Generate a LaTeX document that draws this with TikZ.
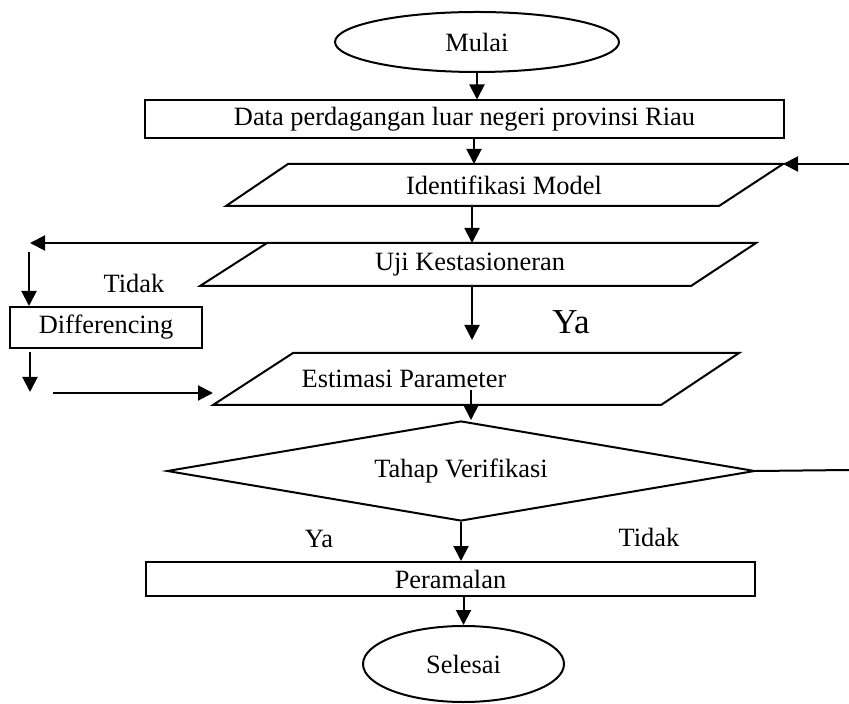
\documentclass[tikz,border=0pt]{standalone}
\usepackage{fontspec}
\setmainfont{Liberation Serif}
\usetikzlibrary{arrows.meta}
\usetikzlibrary{shapes.geometric}
\usetikzlibrary{calc,positioning}

\tikzset{
    flowline/.style = {line width=1pt},
    terminal/.style = {ellipse, draw, flowline, inner sep=1pt},
    process/.style = {rectangle, draw, flowline, inner sep=1pt},
    decision/.style = {diamond, draw, flowline, inner sep=1pt, aspect=5.9},
    label text/.style = {inner sep=1pt}
}

\begin{document}
\begin{tikzpicture}[x=0.5pt, y=-0.5pt, >={Triangle[length=7.5pt,width=7.5pt]},
    every node/.style={font=\fontsize{13.2}{15}\selectfont}]
    \useasboundingbox (0,0) rectangle (849,704);

    \node[terminal, minimum width=142pt, minimum height=30pt] (mulai) at (477,42) {Mulai};
    \node[process, minimum width=319.5pt, minimum height=19pt] (data) at (464.5,119.5)
        {Data perdagangan luar negeri provinsi Riau};

    % Identifikasi Model
    \draw[flowline] (288,164) -- (783,164) coordinate (idm-ne) -- (719,206) -- (226,206) -- cycle;
    \node[label text] (idm) at (504,185) {Identifikasi Model};
    \coordinate (idm-in) at (474,164);
    \coordinate (idm-out) at (472,206);

    % Uji Kestasioneran
    \draw[flowline] (267,243) coordinate (uji-nw) -- (756,243) -- (691,286) -- (200,286) -- cycle;
    \node[label text] (uji) at (470,265) {Uji Kestasioneran};
    \coordinate (uji-in) at (472,243);
    \coordinate (uji-out) at (472,287);

    % Estimasi Parameter
    \draw[flowline] (293,353) -- (739,353) -- (661,405) -- (213,405) -- cycle;
    \node[label text] (est) at (404,379) {Estimasi Parameter};
    \coordinate (est-in) at (472,340);
    \coordinate (est-out) at (471,390);

    \node[process, minimum width=96pt, minimum height=20.5pt] (diff) at (106,327.5) {Differencing};

    \node[decision, minimum width=294pt, minimum height=50pt] (verif) at (461,471) {Tahap Verifikasi};

    \node[process, minimum width=304.5pt, minimum height=17pt] (ramal) at (450.5,579) {Peramalan};
    \node[terminal, minimum width=100.5pt, minimum height=38pt] (selesai) at (463.5,664) {Selesai};

    % free ends of the loops
    \coordinate (back-in) at (849,164);
    \coordinate (back-out) at (849,470);
    \coordinate (tidak-turn) at (30,243);
    \coordinate (diff-in) at (29,252);
    \coordinate (diff-out) at (30,352);
    \coordinate (diff-end) at (30,392);
    \coordinate (est-left) at (53,393);
    \coordinate (est-tip) at (213,393);

    % main flow
    \draw[flowline,->] (mulai.south) -- (mulai.south |- data.north);
    \draw[flowline,->] (data.south -| idm-in) -- (idm-in);
    \draw[flowline,->] (idm-out) -- (uji-in);
    \draw[flowline,->] (uji-out) -- (est-in);
    \draw[flowline,->] (est-out) -- (est-out |- verif.north);
    \draw[flowline,->] (verif.south) -- (verif.south |- ramal.north);
    \draw[flowline,->] (ramal.south -| selesai) -- (selesai.north);

    % loops
    \draw[flowline,->] (back-in) -- (idm-ne);
    \draw[flowline] (verif.east) -- (back-out);
    \draw[flowline,->] (uji-nw) -- (tidak-turn);
    \draw[flowline,->] (diff-in) -- (diff-in |- diff.north);
    \draw[flowline,->] (diff-out) -- (diff-end);
    \draw[flowline,->] (est-left) -- (est-tip);

    % labels
    \node[label text] (tidak-up) at (134,283) {Tidak};
    \node[label text, font=\fontsize{17.5}{20}\selectfont] (ya-up) at (571,322) {Ya};
    \node[label text] (ya-down) at (319,539) {Ya};
    \node[label text] (tidak-down) at (649,537) {Tidak};
\end{tikzpicture}
\end{document}
